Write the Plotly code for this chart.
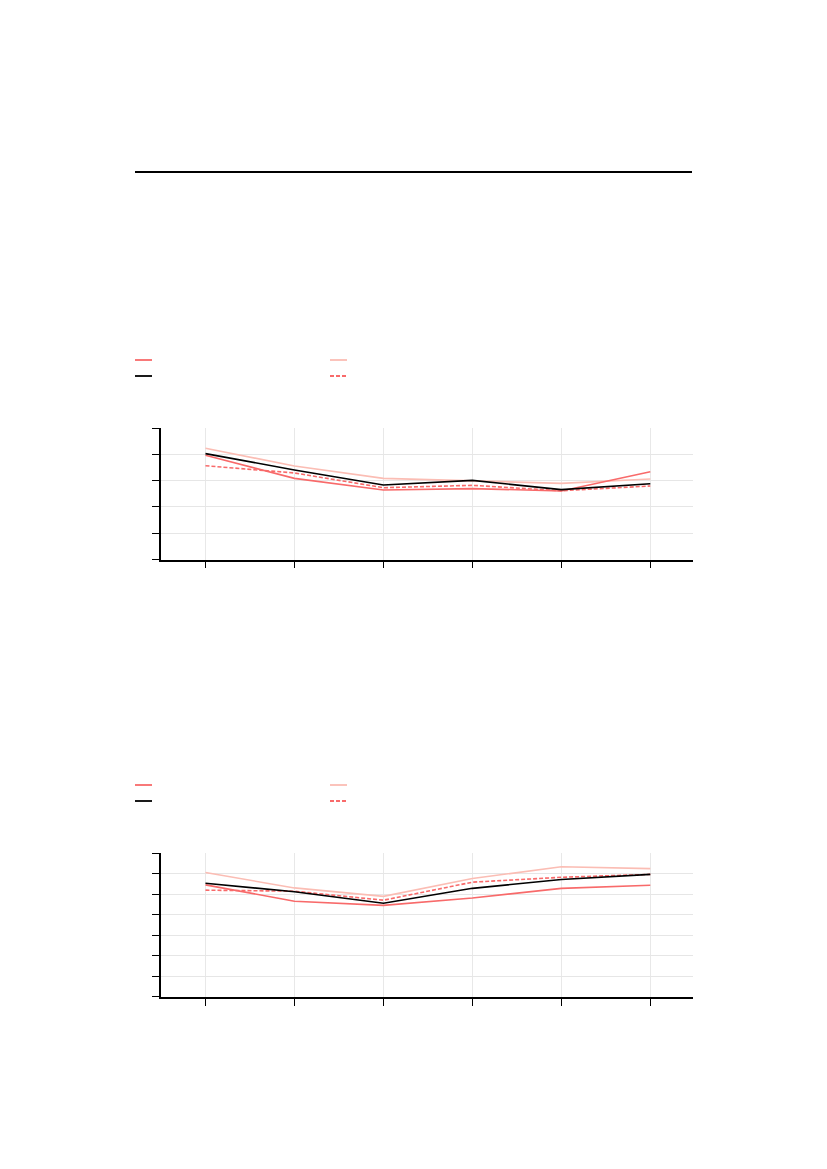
import plotly.graph_objects as go

# page has an 8px body margin; figure placed at (8, 8)
OFF = 8
W, H = 811, 1153

categories = ["1", "2", "3", "4", "5", "6"]

# Panel 1 (y range 0-100)
p1_red = [79.2, 61.7, 52.9, 53.9, 52.1, 66.8]
p1_black = [80.5, 68.1, 56.7, 60.2, 53.1, 57.6]
p1_pink = [84.6, 71.1, 61.7, 59.7, 57.9, 61.2]
p1_dash = [71.3, 65.8, 54.6, 56.4, 52.3, 55.9]

# Panel 2 (y range 0-70)
p2_red = [54.6, 46.6, 44.6, 48.2, 52.9, 54.4]
p2_black = [55.4, 51.2, 45.6, 52.9, 57.2, 59.7]
p2_pink = [60.6, 53.1, 49.0, 57.7, 63.4, 62.5]
p2_dash = [52.0, 51.5, 47.1, 55.9, 58.3, 59.7]

RED = "#f86a6a"
PINK = "#fbbdb4"
BLACK = "#000000"

x_idx = list(range(len(categories)))

fig = go.Figure()

def add_panel(xa, ya, red, black, pink, dash):
    for vals, col, d in [(pink, PINK, "solid"), (red, RED, "solid"),
                         (dash, RED, "4px,2px"), (black, BLACK, "solid")]:
        fig.add_trace(go.Scatter(x=x_idx, y=vals, mode="lines",
                                 line=dict(color=col, width=1.6, dash=d),
                                 xaxis=xa, yaxis=ya, showlegend=False,
                                 hoverinfo="skip"))

add_panel("x", "y", p1_red, p1_black, p1_pink, p1_dash)
add_panel("x2", "y2", p2_red, p2_black, p2_pink, p2_dash)

def px_x(v):
    return (v - OFF) / W

def px_y(v):
    return 1 - (v - OFF) / H

xdom = [px_x(161), px_x(693)]
common_x = dict(range=[-0.5, 5.48], domain=xdom, tickmode="array",
                tickvals=x_idx, ticktext=categories, showticklabels=False,
                showgrid=True, gridcolor="#e8e8e8", gridwidth=1,
                showline=True, linecolor="black", linewidth=1.6,
                ticks="outside", ticklen=7, tickcolor="black", tickwidth=1,
                zeroline=False, fixedrange=True)
common_y = dict(showticklabels=False, showgrid=True, gridcolor="#e6e6e6",
                gridwidth=1, showline=True, linecolor="black", linewidth=2,
                ticks="outside", ticklen=7, tickcolor="black", tickwidth=1,
                zeroline=False, fixedrange=True)

fig.update_layout(
    width=W, height=H,
    margin=dict(l=0, r=0, t=0, b=0),
    paper_bgcolor="white", plot_bgcolor="white",
    showlegend=False,
    xaxis=dict(**common_x, anchor="y"),
    yaxis=dict(**common_y, range=[0, 100], dtick=20,
               domain=[px_y(559.5), px_y(428)], anchor="x"),
    xaxis2=dict(**common_x, anchor="y2"),
    yaxis2=dict(**common_y, range=[0, 70], dtick=10,
                domain=[px_y(996.7), px_y(853.3)], anchor="x2"),
)

shapes = []
# top rule
shapes.append(dict(type="line", xref="paper", yref="paper",
                   x0=px_x(135), x1=px_x(692), y0=px_y(172), y1=px_y(172),
                   line=dict(color="black", width=2)))

# legend keys
def legend_keys(y_row1, y_row2):
    items = [(135, y_row1, RED, "solid"), (330, y_row1, PINK, "solid"),
             (135, y_row2, BLACK, "solid"), (330, y_row2, RED, "4px,2px")]
    for x0, yy, col, d in items:
        shapes.append(dict(type="line", xref="paper", yref="paper",
                           x0=px_x(x0), x1=px_x(x0 + 17), y0=px_y(yy), y1=px_y(yy),
                           line=dict(color=col, width=1.8, dash=d)))

legend_keys(360, 376)
legend_keys(785, 801)

fig.update_layout(shapes=shapes)

fig.write_html("out.html")
